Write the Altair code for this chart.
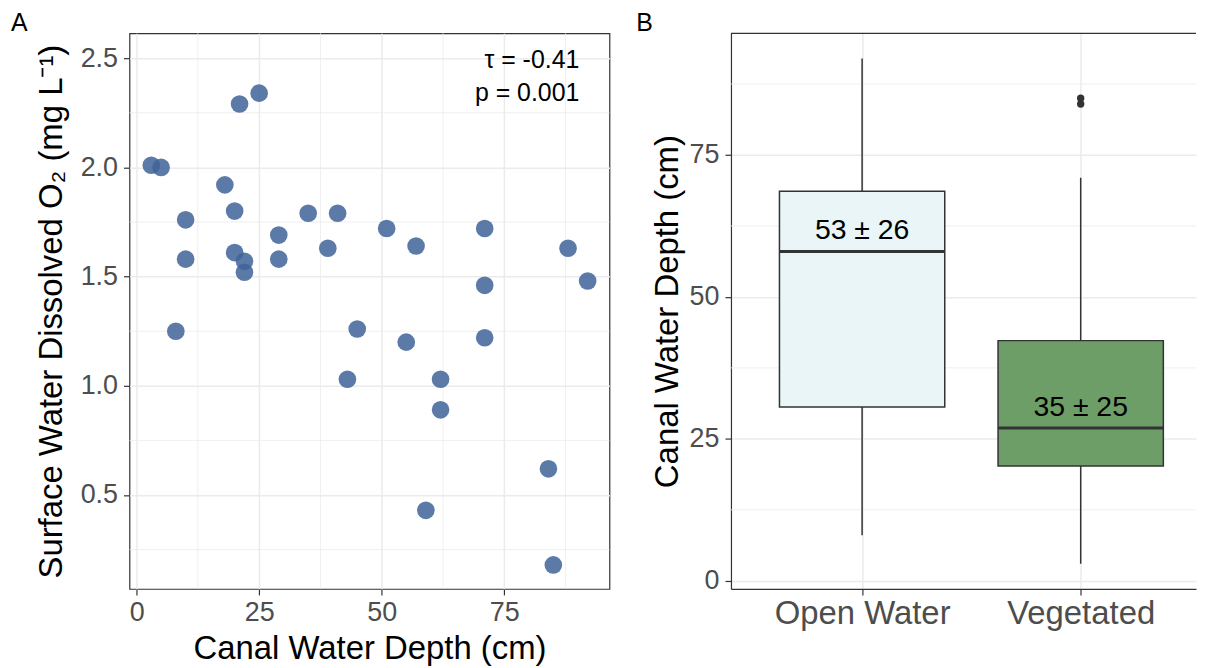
import altair as alt
import pandas as pd

FONT = "Liberation Sans"

# ---------------- Panel A data ----------------
depth_cm = [3, 5, 8, 10, 10, 18, 20, 20, 21, 22, 22, 25, 29, 29, 35, 39,
            41, 43, 45, 51, 55, 57, 59, 62, 62, 71, 71, 71, 84, 85, 88, 92]
dissolved_o2 = [2.01, 2.00, 1.25, 1.76, 1.58, 1.92, 1.80, 1.61, 2.29, 1.57, 1.52, 2.34,
                1.69, 1.58, 1.79, 1.63, 1.79, 1.03, 1.26, 1.72, 1.20, 1.64, 0.43, 1.03,
                0.89, 1.72, 1.46, 1.22, 0.62, 0.18, 1.63, 1.48]
stat_labels = ["τ = -0.41", "p = 0.001"]
stat_x = [90.3, 90.3]
stat_y = [2.455, 2.305]

a_x_ticks = [0, 25, 50, 75]
a_x_minor = [12.5, 37.5, 62.5, 87.5]
a_y_ticks = [0.5, 1.0, 1.5, 2.0, 2.5]
a_y_minor = [0.25, 0.75, 1.25, 1.75, 2.25]

# ---------------- Panel B data ----------------
categories = ["Open Water", "Vegetated"]
cat_pos = [1, 2]
whisker_low = [8, 3]
box_q1 = [30.6, 20.2]
box_median = [58.0, 26.9]
box_q3 = [68.6, 42.3]
whisker_high = [92, 71]
box_fill = ["#E9F5F7", "#6E9E68"]
summary_labels = ["53 ± 26", "35 ± 25"]
summary_label_y = [61.7, 30.6]
outlier_pos = [2, 2]
outlier_depth = [85, 84]
b_y_ticks = [0, 25, 50, 75]
b_y_minor = [12.5, 37.5, 62.5, 87.5]

A_W, A_H = 482, 558
B_W, B_H = 467, 558
GRID = "#EBEBEB"
DARK = "#333333"
PANEL_LABEL_Y = -21.8

# ================= Panel A =================
pts = pd.DataFrame({"depth": depth_cm, "o2": dissolved_o2})
stats = pd.DataFrame({"depth": stat_x, "o2": stat_y, "label": stat_labels})

xa = alt.Scale(domain=[-1.45, 96.45], nice=False, zero=False, padding=0)
ya = alt.Scale(domain=[0.07, 2.614], nice=False, zero=False, padding=0)

ax_xa = alt.Axis(values=a_x_ticks, format="d", title="Canal Water Depth (cm)",
                 titleFontSize=33, titleX=A_W / 2, titleY=70,
                 titleBaseline="alphabetic", titleAlign="center",
                 labelPadding=5, labelFontSize=27)
ax_ya = alt.Axis(values=a_y_ticks, format=".1f",
                 title="Surface Water Dissolved O₂ (mg L⁻¹)",
                 titleFontSize=33, titleX=-68, titleY=A_H / 2,
                 titleAngle=270, titleBaseline="alphabetic", titleAlign="center",
                 labelPadding=6, labelFontSize=27)

X_A = alt.X("depth:Q", scale=xa, axis=ax_xa)
Y_A = alt.Y("o2:Q", scale=ya, axis=ax_ya)

minor_xa = alt.Chart(pd.DataFrame({"depth": a_x_minor})).mark_rule(
    color=GRID, strokeWidth=0.8).encode(x=X_A)
minor_ya = alt.Chart(pd.DataFrame({"o2": a_y_minor})).mark_rule(
    color=GRID, strokeWidth=0.8).encode(y=Y_A)

points = alt.Chart(pts).mark_circle(size=314, opacity=0.85, color="#3F6399").encode(
    x=X_A, y=Y_A)

stat_text = alt.Chart(stats).mark_text(
    align="right", baseline="alphabetic", font=FONT, fontSize=25, color="black"
).encode(x=X_A, y=Y_A, text="label:N")

label_a = alt.Chart(alt.Data(values=[{"panel": "A"}])).mark_text(
    align="left", baseline="top", font=FONT, fontSize=25, color="black"
).encode(x=alt.value(-119), y=alt.value(PANEL_LABEL_Y), text="panel:N")

panel_a = alt.layer(minor_xa, minor_ya, points, stat_text, label_a).properties(
    width=A_W, height=A_H,
    view=alt.ViewBackground(stroke=DARK, strokeWidth=1.2),
)

# ================= Panel B =================
box = pd.DataFrame({
    "cat": categories, "pos": cat_pos, "lo": whisker_low, "q1": box_q1,
    "med": box_median, "q3": box_q3, "hi": whisker_high, "fill": box_fill,
    "lab": summary_labels, "laby": summary_label_y,
})
outl = pd.DataFrame({"pos": outlier_pos, "depth": outlier_depth})

xb = alt.Scale(domain=[0.4, 0.4 + B_W / 219.5], nice=False, zero=False, padding=0)
yb = alt.Scale(domain=[-1.45, 96.45], nice=False, zero=False, padding=0)

label_expr = "[" + ",".join("'" + c + "'" for c in categories) + "][datum.value - 1]"

ax_xb = alt.Axis(values=cat_pos, labelExpr=label_expr, title=None,
                 labelFontSize=33, labelPadding=3, domain=True,
                 domainColor=DARK, domainWidth=1.2)
ax_yb = alt.Axis(values=b_y_ticks, format="d", title="Canal Water Depth (cm)",
                 titleFontSize=33, titleX=-54, titleY=B_H / 2,
                 titleAngle=270, titleBaseline="alphabetic", titleAlign="center",
                 labelPadding=6, labelFontSize=27, domain=True,
                 domainColor=DARK, domainWidth=1.2)


def XB(f):
    return alt.X(f + ":Q", scale=xb, axis=ax_xb)


def YB(f):
    return alt.Y(f + ":Q", scale=yb, axis=ax_yb)


minor_yb = alt.Chart(pd.DataFrame({"lo": b_y_minor})).mark_rule(
    color=GRID, strokeWidth=0.8).encode(y=YB("lo"))

whisk = alt.Chart(box).mark_rule(color=DARK, strokeWidth=1.5).encode(
    x=XB("pos"), y=YB("lo"), y2="hi:Q")

boxes = alt.Chart(box).mark_bar(size=166, stroke=DARK, strokeWidth=1.5, opacity=1).encode(
    x=XB("pos"), y=YB("q1"), y2="q3:Q",
    color=alt.Color("fill:N", scale=None),
)

medians = alt.Chart(box).mark_tick(orient="horizontal", size=166, thickness=3,
                                   color=DARK, opacity=1).encode(
    x=XB("pos"), y=YB("med"))

outliers = alt.Chart(outl).mark_circle(size=55, color=DARK, opacity=1).encode(
    x=XB("pos"), y=YB("depth"))

sum_text = alt.Chart(box).mark_text(
    align="center", baseline="middle", font=FONT, fontSize=28.5, color="black"
).encode(x=XB("pos"), y=YB("laby"), text="lab:N")

top_line = alt.Chart(alt.Data(values=[{"t": 1}])).mark_rule(color=DARK, strokeWidth=1.2).encode(
    x=alt.value(0), x2=alt.value(B_W), y=alt.value(0))

label_b = alt.Chart(alt.Data(values=[{"panel": "B"}])).mark_text(
    align="left", baseline="top", font=FONT, fontSize=25, color="black"
).encode(x=alt.value(-95), y=alt.value(PANEL_LABEL_Y), text="panel:N")

panel_b = alt.layer(minor_yb, whisk, boxes, medians, outliers, sum_text, top_line, label_b).properties(
    width=B_W, height=B_H,
)

chart = alt.hconcat(panel_a, panel_b, spacing=25).properties(
    padding={"left": 2, "top": 1, "right": 0, "bottom": 0},
).configure_view(stroke="transparent").configure_axis(
    labelFont=FONT, labelColor="#4D4D4D", tickColor=DARK, tickSize=6, tickWidth=1.2,
    domain=False, grid=True, gridColor=GRID, gridWidth=1.5,
    titleFont=FONT, titleColor="black", titleFontWeight="normal",
)

chart.save("out.html", embed_options={"renderer": "svg", "actions": False})
